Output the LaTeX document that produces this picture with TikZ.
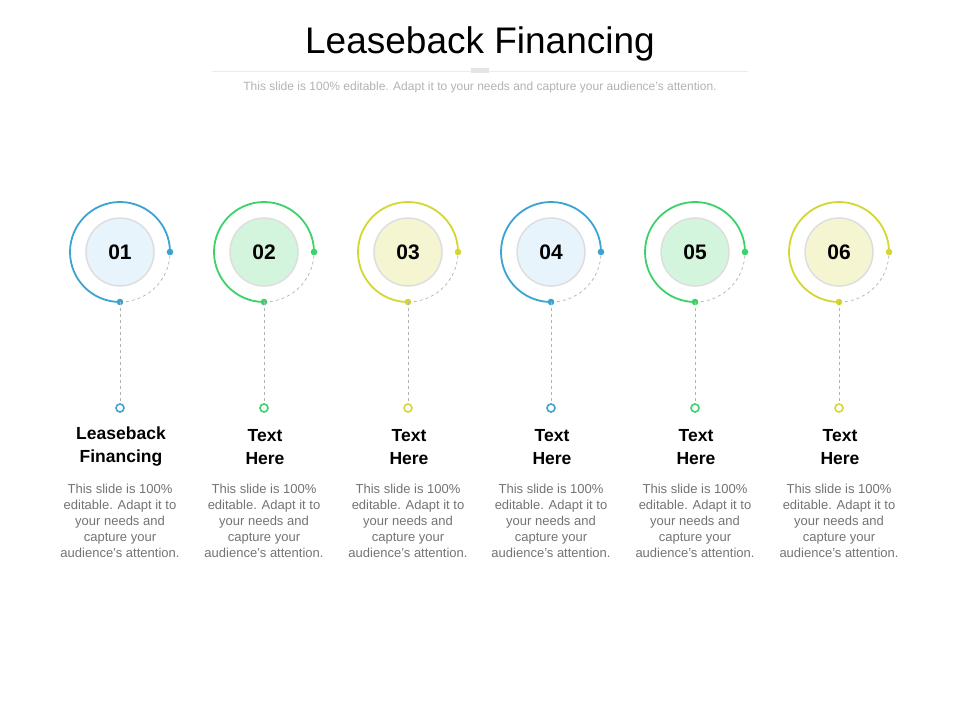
\documentclass[tikz,border=0pt]{standalone}
\usepackage{fontspec}
\setmainfont{Liberation Sans}
\begin{document}
\begin{tikzpicture}[x=1pt,y=-1pt,
  inner/.style={circle,draw=black!13,line width=1.5pt,minimum size=68pt,inner sep=0pt,font=\bfseries\fontsize{21}{24}\selectfont},
  head/.style={align=center,font=\bfseries\fontsize{17.5}{23}\selectfont},
  body/.style={align=center,text=black!55,font=\fontsize{13}{16}\selectfont},
  dashline/.style={draw=black!30,dashed,line width=0.7pt}]
\useasboundingbox (0,0) rectangle (960,720);
\node[font=\fontsize{37}{42}\selectfont] (title) at (480,44) {Leaseback Financing};
\draw[black!8,line width=0.6pt] (212,71) -- (748,71);
\fill[black!10] (471,68) rectangle (489,73);
\node[text=black!30,font=\fontsize{12}{14}\selectfont] (sub) at (480,87) {This slide is 100\% editable. Adapt it to your needs and capture your audience's attention.};
\definecolor{cb}{HTML}{3BA3D0}\definecolor{cg}{HTML}{3DD16B}\definecolor{cy}{HTML}{D4D631}
\definecolor{fb}{HTML}{E8F4FB}\definecolor{fg}{HTML}{D3F5DD}\definecolor{fy}{HTML}{F5F5D2}
\foreach \i/\x/\c/\f/\ha/\hb in {1/120/cb/fb/Leaseback/Financing,2/264/cg/fg/Text/Here,3/408/cy/fy/Text/Here,4/551/cb/fb/Text/Here,5/695/cg/fg/Text/Here,6/839/cy/fy/Text/Here}{
  \coordinate (c\i) at (\x,252);
  \coordinate (r\i) at (\x+50,252);
  \coordinate (b\i) at (\x,302);
  \draw[\c,line width=1.8pt] (r\i) arc[start angle=0,end angle=-270,radius=50];
  \draw[dashline] (b\i) arc[start angle=90,end angle=0,radius=50];
  \node[inner,fill=\f] (n\i) at (c\i) {0\i};
  \fill[\c] (r\i) circle (3.3);
  \fill[\c] (b\i) circle (3.3);
  \node[circle,draw=\c,line width=1.6pt,minimum size=8pt,inner sep=0pt] (e\i) at (\x,408) {};
  \draw[dashline] (b\i) -- (e\i);
  \node[head] (h\i) at (\x+1,447) {\ha\\\hb};
  \node[body] (t\i) at (\x,521) {This slide is 100\%\\editable. Adapt it to\\your needs and\\capture your\\audience's attention.};
}
\end{tikzpicture}
\end{document}
